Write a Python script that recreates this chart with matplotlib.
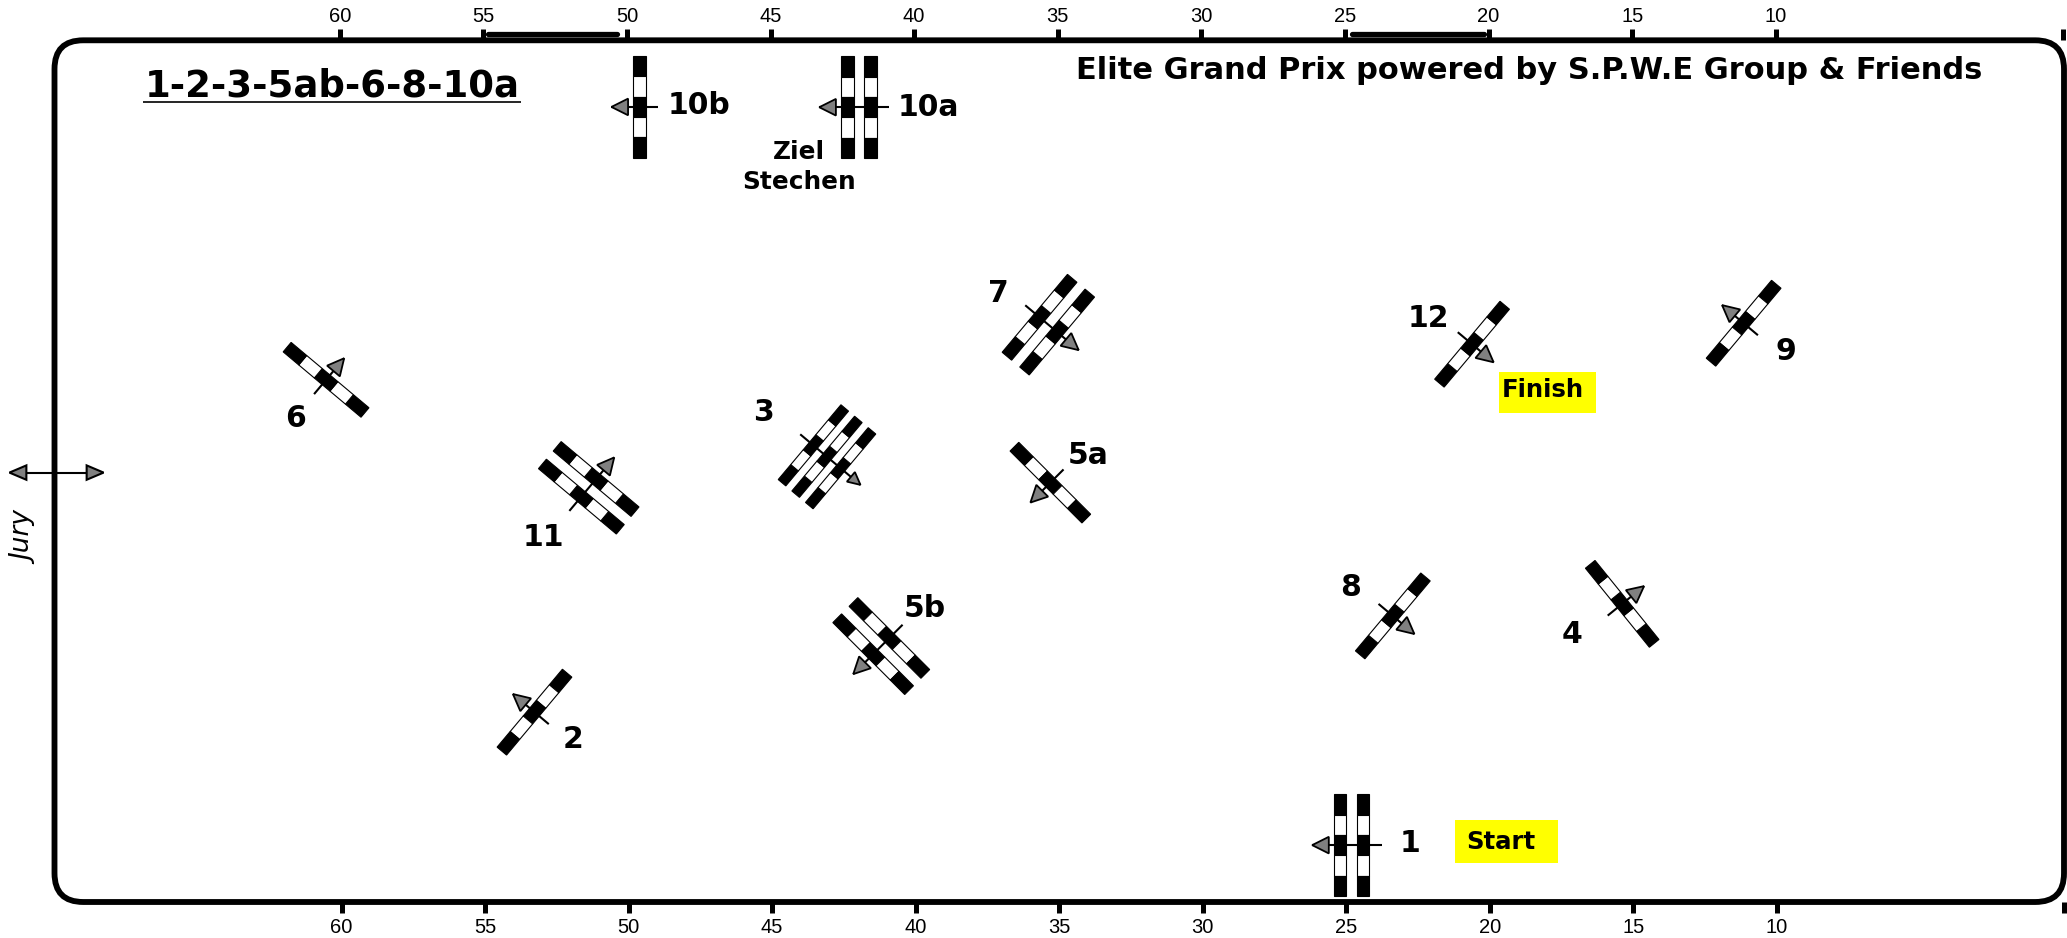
import numpy as np
import matplotlib
matplotlib.use("Agg")
import matplotlib.pyplot as plt
from matplotlib.patches import FancyBboxPatch, Polygon, Rectangle

W, H = 2067, 938
plt.rcParams["font.family"] = ["DejaVu Sans"]

# course data, metres in a 70 x 30 arena (x counted from the right)
arena_len = 70
arena_wid = 30
tick_vals = [60, 55, 50, 45, 40, 35, 30, 25, 20, 15, 10]
scale_top = [(54.9, 50.4), (24.8, 20.2)]

jump_names = ["1", "2", "3", "4", "5a", "5b", "6", "7", "8", "9", "10a", "10b", "11", "12"]
jump_x = [24.81, 53.28, 43.09, 15.39, 35.31, 41.20, 60.54, 35.38, 23.38, 11.16, 41.98, 49.62, 51.39, 20.62]
jump_y = [1.98, 6.61, 15.50, 10.38, 14.60, 8.91, 18.18, 20.10, 9.96, 20.15, 27.67, 27.68, 14.42, 19.42]
jump_dir = [180, 140, -40, 39, 225, 225, 50, -40, -40, 140, 180, 180, 50, -40]
jump_rails = [2, 1, 3, 1, 1, 2, 1, 2, 1, 1, 2, 1, 2, 1]
label_x = [22.78, 51.95, 45.29, 17.13, 33.99, 39.68, 61.59, 37.11, 24.85, 9.69, 39.55, 47.54, 52.96, 22.14]
label_y = [2.05, 5.67, 17.05, 9.30, 15.54, 10.22, 16.82, 21.18, 10.95, 19.16, 27.65, 27.74, 12.69, 20.31]

title_left = "1-2-3-5ab-6-8-10a"
title_right = "Elite Grand Prix powered by S.P.W.E Group & Friends"

fig = plt.figure(figsize=(W / 100, H / 100), dpi=100)
L, R, T, B = 54.5, 2064.0, 40.3, 902.0


def make_axes(l, r, t, b):
    return fig.add_axes([l / W, 1 - b / H, (r - l) / W, (b - t) / H])


ax = make_axes(L, R, T, B)
ax.set_xlim(arena_len, 0)
ax.set_ylim(0, arena_wid)
for s in ax.spines.values():
    s.set_visible(False)
ax.patch.set_visible(False)
ax.set_xticks(tick_vals + [0])
ax.set_xticklabels([str(v) for v in tick_vals] + [""], fontsize=14.5, family="Liberation Sans")
ax.set_yticks([])
ax.tick_params(axis="x", length=8, width=3.6, pad=3.3, direction="out")

axt = make_axes(L - 2, R - 1, T, B)
axt.set_xlim(arena_len, 0)
axt.set_ylim(0, arena_wid)
axt.patch.set_visible(False)
for s in axt.spines.values():
    s.set_visible(False)
axt.set_xticks(tick_vals + [0])
axt.set_xticklabels([str(v) for v in tick_vals] + [""], fontsize=14.5, family="Liberation Sans")
axt.set_yticks([])
axt.tick_params(axis="x", top=True, bottom=False, labeltop=True, labelbottom=False,
                length=8, width=3.6, pad=2.0, direction="out")

# arena frame
ax.add_patch(FancyBboxPatch((0, 0), arena_len, arena_wid,
                            boxstyle="round,pad=0,rounding_size=1.0",
                            fc="none", ec="black", lw=4.2, clip_on=False, zorder=3))

for a, b in scale_top:
    ax.plot([a, b], [30.21, 30.21], color="black", lw=3.8, solid_capstyle="round", clip_on=False)

# course obstacles
RAIL_LEN = 3.54
RAIL_W = 0.43
GAP = {1: 0.0, 2: 0.80, 3: 0.62}


def unit(deg):
    a = np.radians(deg)
    return np.array([-np.cos(a), np.sin(a)])  # x axis runs right to left


def quad(c, u, v, s0, s1, w):
    pts = [c + u * s0 + v * w / 2, c + u * s1 + v * w / 2,
           c + u * s1 - v * w / 2, c + u * s0 - v * w / 2]
    return np.array(pts)


def triangle(tip, u, v, ln, hw):
    return np.array([tip, tip - u * ln + v * hw, tip - u * ln - v * hw])


def draw_jump(x, y, deg, n):
    c0 = np.array([x, y])
    u = unit(deg)   # arrow direction
    v = unit(deg + 90)  # rail direction
    gap = GAP[n]
    offs = [(i - (n - 1) / 2) * gap for i in range(n)]
    small = 0.75 if n == 3 else 1.0
    rail_len = RAIL_LEN * (0.96 if n == 3 else 1)
    rail_w = RAIL_W * (0.8 if n == 3 else 1)
    tip = c0 + u * (max(offs) + 0.98 * (0.92 if n == 3 else 1))
    tail = c0 - u * (max(offs) + 0.65 * (0.92 if n == 3 else 1))
    ax.plot([tail[0], tip[0]], [tail[1], tip[1]], color="black", lw=1.5, zorder=4,
            solid_capstyle="butt")
    ax.add_patch(Polygon(triangle(tip, u, v, 0.58 * small, 0.29 * small),
                         closed=True, fc="#808080", ec="black", lw=1.3, zorder=6))
    seg = rail_len / 5
    for o in offs:
        c = c0 + u * o
        for k in range(5):
            s0 = -rail_len / 2 + k * seg
            col = "black" if k % 2 == 0 else "white"
            ax.add_patch(Polygon(quad(c, v, u, s0, s0 + seg, rail_w), closed=True,
                                 fc=col, ec="black", lw=0.8, zorder=5))


for x, y, d, n in zip(jump_x, jump_y, jump_dir, jump_rails):
    draw_jump(x, y, d, n)

for name, x, y in zip(jump_names, label_x, label_y):
    ax.text(x, y, name, fontsize=21.5, fontweight="bold", ha="center", va="center", zorder=7)

# titles
ax.text(66.85, 28.40, title_left, fontsize=26.7, fontweight="bold", ha="left", va="center")
ax.plot([66.9, 53.75], [27.84, 27.84], color="black", lw=1.2, solid_capstyle="butt")
ax.text(2.85, 28.94, title_right, fontsize=21.96, fontweight="bold", ha="right", va="center")

ax.text(44.08, 26.12, "Ziel", fontsize=17.8, fontweight="bold", ha="center", va="center")
ax.text(44.08, 25.05, "Stechen", fontsize=17.8, fontweight="bold", ha="center", va="center")

# start and finish boxes
ax.add_patch(Rectangle((17.61, 1.35), 3.6, 1.52, fc="#ffff00", ec="none", zorder=1))
ax.text(20.81, 2.09, "Start", fontsize=17.6, fontweight="bold", ha="left", va="center", zorder=2)
ax.add_patch(Rectangle((16.29, 17.04), 3.38, 1.42, fc="#ffff00", ec="none", zorder=1))
ax.text(19.6, 17.82, "Finish", fontsize=17.6, fontweight="bold", ha="left", va="center", zorder=2)

# jury
ax.plot([71.0, 68.8], [14.95, 14.95], color="black", lw=1.5, clip_on=False, zorder=4)
e = np.array([0.0, 1.0])
for tip, s in (((71.57, 14.95), 1), ((68.29, 14.95), -1)):
    tip = np.array(tip)
    base = tip + np.array([-0.59 * s, 0])
    ax.add_patch(Polygon([tip, base + e * 0.25, base - e * 0.25], closed=True, fc="#808080",
                         ec="black", lw=1.5, clip_on=False, zorder=6))
ax.text(70.97, 12.66, "Jury", fontsize=19, fontstyle="italic", rotation=90,
        ha="center", va="center", clip_on=False)

fig.savefig("out.png", dpi=100)
